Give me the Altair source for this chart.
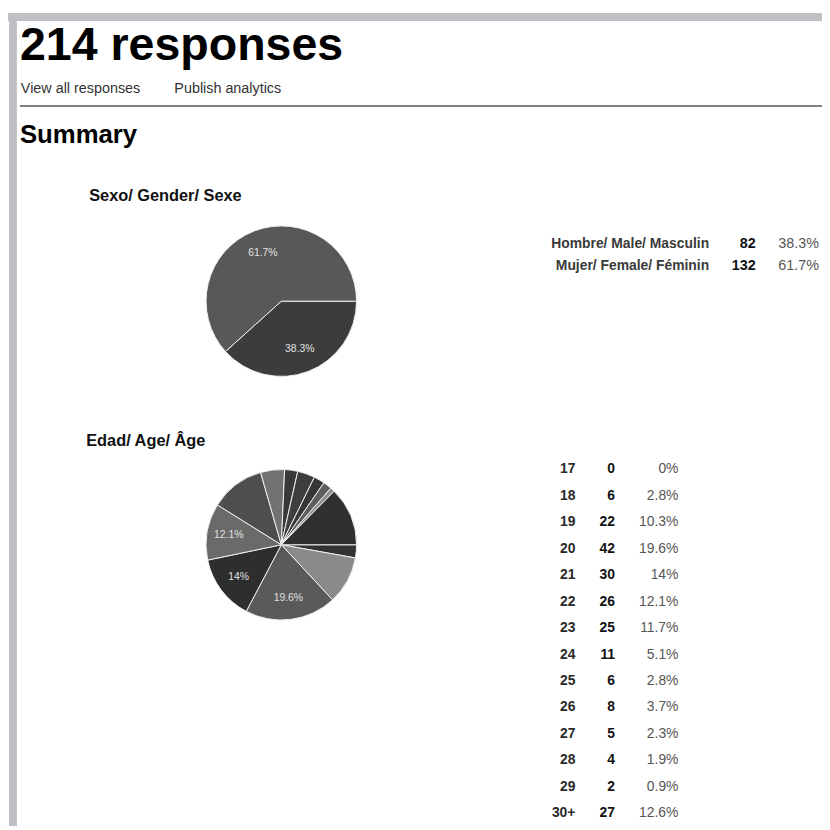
import math
import altair as alt
import pandas as pd

# ---- data ----
gender_labels = ["Hombre/ Male/ Masculin", "Mujer/ Female/ Féminin"]
gender_counts = [82, 132]
gender_pcts = ["38.3%", "61.7%"]
gender_colors = ["#3c3c3c", "#585858"]

age_labels = ["17", "18", "19", "20", "21", "22", "23", "24", "25", "26", "27", "28", "29", "30+"]
age_counts = [0, 6, 22, 42, 30, 26, 25, 11, 6, 8, 5, 4, 2, 27]
age_pcts = ["0%", "2.8%", "10.3%", "19.6%", "14%", "12.1%", "11.7%", "5.1%", "2.8%", "3.7%", "2.3%", "1.9%", "0.9%", "12.6%"]
age_slice_labels = ["", "", "", "19.6%", "14%", "12.1%", "", "", "", "", "", "", "", ""]
age_colors = ["#555555", "#333333", "#8a8a8a", "#5a5a5a", "#2e2e2e", "#6a6a6a", "#4e4e4e",
              "#727272", "#383838", "#3e3e3e", "#363636", "#5e5e5e", "#8c8c8c", "#303030"]

title_text = "214 responses"
link_texts = ["View all responses", "Publish analytics"]
summary_text = "Summary"
q1_text = "Sexo/ Gender/ Sexe"
q2_text = "Edad/ Age/ Âge"

FONT = "Liberation Sans"
W, H = 822, 822

gdf = pd.DataFrame({"idx": range(2), "label": gender_labels, "count": gender_counts,
                    "pct": gender_pcts, "col": gender_colors, "row": range(2)})
adf = pd.DataFrame({"idx": range(len(age_labels)), "label": age_labels, "count": age_counts,
                    "pct": age_pcts, "slbl": age_slice_labels, "col": age_colors,
                    "arow": range(len(age_labels))})

one = pd.DataFrame({"k": [0]})
theta_scale = alt.Scale(range=[math.pi / 2, math.pi / 2 + 2 * math.pi])

# gray frame
frame_top = alt.Chart(one).mark_rect(color="#bfc0c4").encode(
    x=alt.value(0), x2=alt.value(W), y=alt.value(1), y2=alt.value(9))
frame_left = alt.Chart(one).mark_rect(color="#bfc0c4").encode(
    x=alt.value(1), x2=alt.value(9), y=alt.value(1), y2=alt.value(H))

def static_text(txt, x, y, size, bold=False, color="#000000", align="left"):
    return alt.Chart(pd.DataFrame({"t": [txt]})).mark_text(
        font=FONT, fontSize=size, fontWeight="bold" if bold else "normal",
        color=color, align=align, baseline="alphabetic").encode(
        x=alt.value(x), y=alt.value(y), text="t:N")

title = static_text(title_text, 12, 48, 47, bold=True)
link1 = static_text(link_texts[0], 13, 82, 14.5, color="#333333")
link2 = static_text(link_texts[1], 168, 82, 14.5, color="#333333")
rule = alt.Chart(one).mark_rule(color="#808080", strokeWidth=2).encode(
    x=alt.value(12), x2=alt.value(W), y=alt.value(95))
summary = static_text(summary_text, 12, 132, 26, bold=True)
q1 = static_text(q1_text, 82, 191, 16.5, bold=True, color="#111111")
q2 = static_text(q2_text, 79, 438, 16.5, bold=True, color="#111111")

# pies
C1 = (276, 292)
C2 = (276, 538)
R = 76

pie1 = alt.Chart(gdf).mark_arc(radius=R, stroke="#f0f0f0", strokeWidth=1).encode(
    theta=alt.Theta("count:Q", stack=True, scale=theta_scale),
    order=alt.Order("idx:Q"),
    color=alt.Color("col:N", scale=None),
    x=alt.value(C1[0]), y=alt.value(C1[1]))
pie1_lbl = alt.Chart(gdf).mark_text(radius=52, font=FONT, fontSize=10.5, color="#e0e0e0").encode(
    theta=alt.Theta("count:Q", stack=True, scale=theta_scale),
    order=alt.Order("idx:Q"),
    text="pct:N",
    x=alt.value(C1[0]), y=alt.value(C1[1]))

pie2 = alt.Chart(adf).mark_arc(radius=R, stroke="#f0f0f0", strokeWidth=1).encode(
    theta=alt.Theta("count:Q", stack=True, scale=theta_scale),
    order=alt.Order("idx:Q"),
    color=alt.Color("col:N", scale=None),
    x=alt.value(C2[0]), y=alt.value(C2[1]))
pie2_lbl = alt.Chart(adf).mark_text(radius=54, font=FONT, fontSize=10.5, color="#e0e0e0").encode(
    theta=alt.Theta("count:Q", stack=True, scale=theta_scale),
    order=alt.Order("idx:Q"),
    text="slbl:N",
    x=alt.value(C2[0]), y=alt.value(C2[1]))

# tables
y1 = alt.Y("row:Q", scale=alt.Scale(domain=[0, 1], range=[234, 257]), axis=None)
t1_lab = alt.Chart(gdf).mark_text(font=FONT, fontSize=14, fontWeight="bold", color="#3a3a3a", align="right", baseline="middle").encode(
    x=alt.value(708), y=y1, text="label:N")
t1_cnt = alt.Chart(gdf).mark_text(font=FONT, fontSize=14.5, fontWeight="bold", color="#111111", align="right", baseline="middle").encode(
    x=alt.value(755), y=y1, text="count:Q")
t1_pct = alt.Chart(gdf).mark_text(font=FONT, fontSize=14.5, color="#555555", align="right", baseline="middle").encode(
    x=alt.value(819), y=y1, text="pct:N")

y2 = alt.Y("arow:Q", scale=alt.Scale(domain=[0, 13], range=[462, 462 + 13 * 26.7]), axis=None)
t2_lab = alt.Chart(adf).mark_text(font=FONT, fontSize=14, fontWeight="bold", color="#2a2a2a", align="right", baseline="middle").encode(
    x=alt.value(573), y=y2, text="label:N")
t2_cnt = alt.Chart(adf).mark_text(font=FONT, fontSize=14, fontWeight="bold", color="#111111", align="right", baseline="middle").encode(
    x=alt.value(613), y=y2, text="count:Q")
t2_pct = alt.Chart(adf).mark_text(font=FONT, fontSize=14, color="#555555", align="right", baseline="middle").encode(
    x=alt.value(677), y=y2, text="pct:N")

chart = alt.layer(
    frame_top, frame_left, title, link1, link2, rule, summary, q1, q2,
    pie1, pie1_lbl, pie2, pie2_lbl,
    t1_lab, t1_cnt, t1_pct, t2_lab, t2_cnt, t2_pct
).resolve_scale(
    theta="independent", y="independent", color="independent"
).properties(
    width=W, height=H, padding=0, autosize=alt.AutoSizeParams(type="none"),
    background="white"
).configure_view(stroke=None)

chart.save("out.html", embed_options={"renderer": "svg", "actions": False})
